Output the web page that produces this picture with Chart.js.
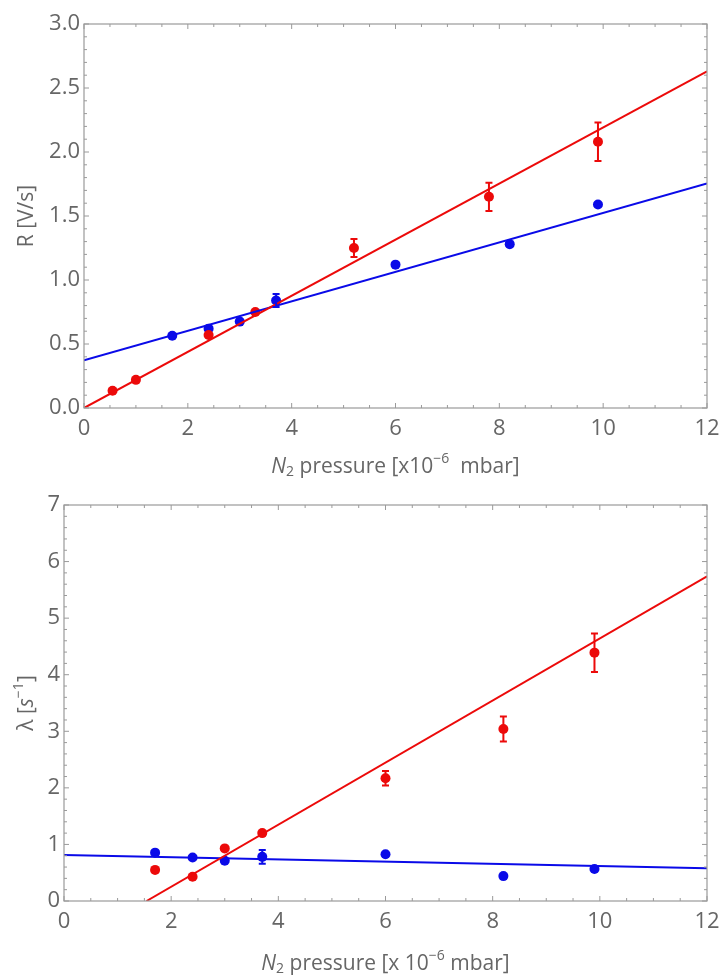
<!DOCTYPE html>
<html><head><meta charset="utf-8">
<script src="https://cdn.jsdelivr.net/npm/chart.js@4/dist/chart.umd.min.js"></script>
<style>
html,body{margin:0;padding:0;background:#fff;overflow:hidden;}
#wrap{width:723px;height:978px;position:relative;}
canvas{display:block;}
</style></head>
<body><div id="wrap">
<div style="width:723px;height:490px;position:relative"><canvas id="c1"></canvas></div>
<div style="width:723px;height:488px;position:relative"><canvas id="c2"></canvas></div>
</div>
<script>
// ---- Data: top panel (R) ----
const rPressRed = [0.55, 1.0, 2.4, 3.3, 5.2, 7.8, 9.9];
const rValRed   = [0.135, 0.22, 0.57, 0.75, 1.25, 1.65, 2.08];
const rErrRed   = [0.01, 0.01, 0.03, 0.03, 0.07, 0.11, 0.15];
const rPressBlue = [1.7, 2.4, 3.0, 3.7, 6.0, 8.2, 9.9];
const rValBlue   = [0.565, 0.62, 0.675, 0.84, 1.12, 1.28, 1.59];
const rErrBlue   = [0.03, 0.02, 0.03, 0.05, 0.02, 0.02, 0.02];
const rFitRedX = [0, 12], rFitRedY = [0, 2.63];
const rFitBlueX = [0, 12], rFitBlueY = [0.372, 1.755];
const rYTicks = [0, 0.5, 1.0, 1.5, 2.0, 2.5, 3.0];
// ---- Data: bottom panel (lambda) ----
const lPressRed = [1.7, 2.4, 3.0, 3.7, 6.0, 8.2, 9.9];
const lValRed   = [0.55, 0.43, 0.93, 1.2, 2.17, 3.04, 4.39];
const lErrRed   = [0.05, 0.02, 0.02, 0.02, 0.13, 0.22, 0.34];
const lPressBlue = [1.7, 2.4, 3.0, 3.7, 6.0, 8.2, 9.9];
const lValBlue   = [0.855, 0.77, 0.71, 0.78, 0.825, 0.44, 0.566];
const lErrBlue   = [0.02, 0.02, 0.02, 0.12, 0.02, 0.02, 0.02];
const lFitRedX = [1.54, 12], lFitRedY = [0, 5.74];
const lFitBlueX = [0, 12], lFitBlueY = [0.813, 0.578];
const lYTicks = [0, 1, 2, 3, 4, 5, 6, 7];
const xTicks = [0, 2, 4, 6, 8, 10, 12];

const RED = '#ec0a0a', BLUE = '#0a0ae8';
const TXT = '#666666', FRAME = '#9a9a9a';
const FONT = "'Open Sans', 'DejaVu Sans', sans-serif";

function pts(xs, ys){ return xs.map((x,i)=>({x:x, y:ys[i]})); }

const framePlugin = {
  id:'frame',
  afterDatasetsDraw(chart, args, o){
    const ctx = chart.ctx, a = chart.chartArea;
    const xs = chart.scales.x, ys = chart.scales.y;
    // error bars
    chart.data.datasets.forEach((ds, di)=>{
      if(!ds.err) return;
      ctx.save(); ctx.strokeStyle = ds.borderColor; ctx.lineWidth = 2;
      ds.data.forEach((p,i)=>{
        const e = ds.err[i];
        const px = xs.getPixelForValue(p.x);
        const y1 = ys.getPixelForValue(p.y + e), y2 = ys.getPixelForValue(p.y - e);
        if (y2 - y1 < 9) return;
        ctx.beginPath();
        ctx.moveTo(px, y1); ctx.lineTo(px, y2);
        ctx.moveTo(px-3.5, y1); ctx.lineTo(px+3.5, y1);
        ctx.moveTo(px-3.5, y2); ctx.lineTo(px+3.5, y2);
        ctx.stroke();
      });
      ctx.restore();
    });
    // frame
    ctx.save();
    ctx.strokeStyle = FRAME; ctx.lineWidth = 1.2;
    ctx.strokeRect(a.left, a.top, a.right-a.left, a.bottom-a.top);
    ctx.lineWidth = 1;
    const xMinor = o.xMinor, yMinor = o.yMinor;
    for(let v = xs.min; v <= xs.max + 1e-9; v += xMinor){
      const px = xs.getPixelForValue(v);
      const major = Math.abs(v/2 - Math.round(v/2)) < 1e-6;
      const L = major ? 5 : 3;
      ctx.beginPath();
      ctx.moveTo(px, a.bottom); ctx.lineTo(px, a.bottom - L);
      ctx.moveTo(px, a.top); ctx.lineTo(px, a.top + L);
      ctx.stroke();
    }
    for(let k = 0; ; k++){
      const v = ys.min + k*yMinor; if (v > ys.max + 1e-9) break;
      const py = ys.getPixelForValue(v);
      const major = (k % 5) === 0;
      const L = major ? 5 : 3;
      ctx.beginPath();
      ctx.moveTo(a.left, py); ctx.lineTo(a.left + L, py);
      ctx.moveTo(a.right, py); ctx.lineTo(a.right - L, py);
      ctx.stroke();
    }
    ctx.restore();
    // axis titles
    drawRich(ctx, o.xTitle, (a.left+a.right)/2, o.xTitleY, 0);
    drawRich(ctx, o.yTitle, 25, (a.top+a.bottom)/2, -Math.PI/2);
  }
};

function drawRich(ctx, parts, cx, cy, rot){
  ctx.save();
  ctx.translate(cx, cy); ctx.rotate(rot);
  ctx.fillStyle = TXT; ctx.textBaseline = 'alphabetic';
  let w = 0;
  parts.forEach(p=>{ ctx.font = p.font; p.w = ctx.measureText(p.t).width; w += p.w; });
  let x = -w/2;
  parts.forEach(p=>{ ctx.font = p.font; ctx.fillText(p.t, x, 8 + (p.dy||0)); x += p.w; });
  ctx.restore();
}

function makeChart(id, cfg){
  return new Chart(document.getElementById(id), {
    type:'scatter',
    data:{datasets:[
      {type:'line', data:pts(cfg.fitRedX, cfg.fitRedY), borderColor:RED, borderWidth:2, pointRadius:0, fill:false},
      {type:'line', data:pts(cfg.fitBlueX, cfg.fitBlueY), borderColor:BLUE, borderWidth:2, pointRadius:0, fill:false},
      {data:pts(cfg.redX, cfg.redY), err:cfg.redE, borderColor:RED, backgroundColor:RED, pointRadius:5, pointBorderWidth:0},
      {data:pts(cfg.blueX, cfg.blueY), err:cfg.blueE, borderColor:BLUE, backgroundColor:BLUE, pointRadius:5, pointBorderWidth:0}
    ]},
    options:{
      responsive:true, maintainAspectRatio:false, animation:false,
      layout:{padding:{top:cfg.padTop, right:16, left:0, bottom:0}},
      plugins:{legend:{display:false}, tooltip:{enabled:false},
        frame:{xMinor:0.5, yMinor:cfg.yMinor, xTitle:cfg.xTitle, yTitle:cfg.yTitle, xTitleY:cfg.xTitleY}},
      scales:{
        x:{type:'linear', min:0, max:12,
          afterBuildTicks:(s)=>{ s.ticks = xTicks.map(v=>({value:v})); },
          afterFit:(s)=>{ s.height = cfg.xH; s.paddingLeft = 0; s.paddingRight = 0; },
          grid:{display:false, drawTicks:false}, border:{display:false},
          ticks:{color:TXT, font:{family:FONT, size:22}, padding:8, maxRotation:0,
            callback:(v)=>String(v)}},
        y:{type:'linear', min:0, max:cfg.yMax,
          afterBuildTicks:(s)=>{ s.ticks = cfg.yTicks.map(v=>({value:v})); },
          afterFit:(s)=>{ s.width = cfg.yW; s.paddingTop = 0; s.paddingBottom = 0; },
          grid:{display:false, drawTicks:false}, border:{display:false},
          ticks:{color:TXT, font:{family:FONT, size:22}, padding:4,
            callback:(v)=>cfg.fmt(v)}}
      }
    },
    plugins:[framePlugin]
  });
}

const F = (s, st) => (st||'') + ' ' + s + "px " + FONT;

makeChart('c1', {
  redX:rPressRed, redY:rValRed, redE:rErrRed, blueX:rPressBlue, blueY:rValBlue, blueE:rErrBlue,
  fitRedX:rFitRedX, fitRedY:rFitRedY, fitBlueX:rFitBlueX, fitBlueY:rFitBlueY,
  yMax:3, yTicks:rYTicks, yMinor:0.1, fmt:(v)=>v.toFixed(1),
  padTop:24, xH:82, yW:84, xTitleY:465,
  xTitle:[{t:'N', font:F(21,'italic')},{t:'2', font:F(14), dy:3},{t:' pressure [x10', font:F(21)},{t:'\u22126', font:F(14), dy:-10},{t:'  mbar]', font:F(21)}],
  yTitle:[{t:'R [V/s]', font:F(21)}]
});

makeChart('c2', {
  redX:lPressRed, redY:lValRed, redE:lErrRed, blueX:lPressBlue, blueY:lValBlue, blueE:lErrBlue,
  fitRedX:lFitRedX, fitRedY:lFitRedY, fitBlueX:lFitBlueX, fitBlueY:lFitBlueY,
  yMax:7, yTicks:lYTicks, yMinor:0.2, fmt:(v)=>String(v),
  padTop:15, xH:77, yW:64, xTitleY:472,
  xTitle:[{t:'N', font:F(21,'italic')},{t:'2', font:F(14), dy:3},{t:' pressure [x 10', font:F(21)},{t:'\u22126', font:F(14), dy:-10},{t:' mbar]', font:F(21)}],
  yTitle:[{t:'\u03bb [', font:F(21)},{t:'s', font:F(21,'italic')},{t:'\u22121', font:F(14), dy:-10},{t:']', font:F(21)}]
});
</script>
</body></html>
